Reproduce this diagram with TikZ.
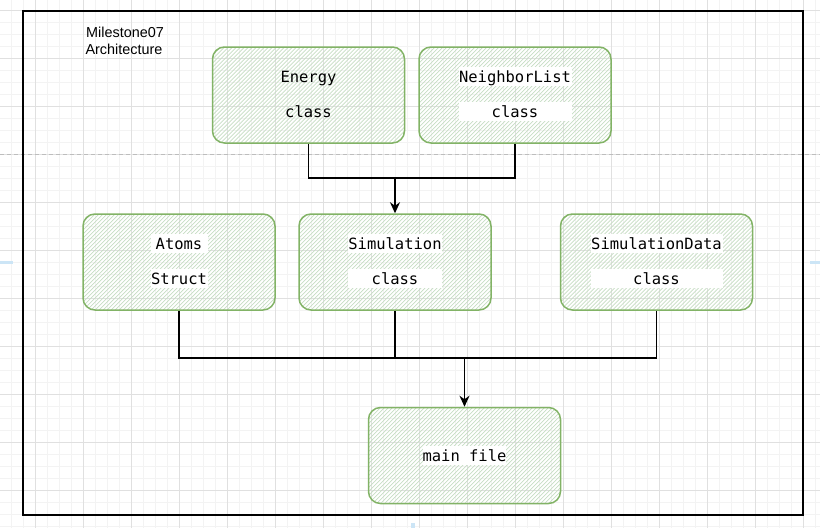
\documentclass[tikz,border=0pt]{standalone}
\usepackage{fontspec}
\newfontfamily\monofam{DejaVu Sans Mono}
\newfontfamily\sansfam{Liberation Sans}
\usetikzlibrary{calc,arrows.meta}
\definecolor{gstroke}{HTML}{82B366}
\definecolor{ghatch}{HTML}{C6DDC3}
\definecolor{gridmaj}{HTML}{E0E0E0}
\definecolor{gridmin}{HTML}{F3F3F3}
\definecolor{selblue}{HTML}{CCE5F6}
\definecolor{pageline}{HTML}{BDBDBD}
\begin{document}
\begin{tikzpicture}[x=1pt,y=-1pt,
  greenbox/.style={draw=gstroke, line width=1.5pt, rounded corners=12pt,
    minimum width=192pt, minimum height=96pt, inner sep=0pt,
    path picture={\foreach \i in {-100,-96,...,200}
      \draw[ghatch, line width=0.7pt] ([xshift=\i pt]path picture bounding box.south west) -- ++(110pt,110pt);}},
  lbl/.style={font=\monofam\fontsize{15.5}{18}\selectfont, inner sep=0pt,
    text height=15pt, text depth=4pt, anchor=base},
  wlbl/.style={lbl, fill=white, minimum width=#1},
  wlbl/.default=0pt,
  titletext/.style={font=\sansfam\fontsize{14.4}{17}\selectfont, inner sep=0pt, anchor=base},
  conn/.style={line width=1.3pt, black},
  arr/.style={conn, -{Stealth[length=11pt,width=10pt,inset=3.5pt]}}
]
\useasboundingbox (0,0) rectangle (820,528);
% grid
\foreach \x in {11,23,...,815} \draw[gridmin, line width=0.8pt] (\x,0) -- (\x,528);
\foreach \y in {10,22,...,526} \draw[gridmin, line width=0.8pt] (0,\y) -- (820,\y);
\foreach \x in {35,83,...,803} \draw[gridmaj, line width=0.8pt] (\x,0) -- (\x,528);
\foreach \y in {10,58,...,490} \draw[gridmaj, line width=0.8pt] (0,\y) -- (820,\y);
% page break line
\draw[pageline, dash pattern=on 4pt off 3pt, line width=0.8pt] (0,154) -- (820,154);
% selection marks
\fill[selblue] (0,261) rectangle (13,264);
\fill[selblue] (810,261) rectangle (820,264);
\fill[selblue] (411,523) rectangle (415,528);
% frame
\draw[line width=1.6pt] (23,11) rectangle (803,515);
% title
\node[titletext] (title1) at (125,37) {Milestone07};
\node[titletext] (title2) at (124,54) {Architecture};
% boxes
\node[greenbox] (energy) at (308.5,95) {};
\node[greenbox] (nlist) at (515,95) {};
\node[greenbox] (atoms) at (179,262) {};
\node[greenbox] (sim) at (395,262) {};
\node[greenbox] (simdata) at (656.5,262) {};
\node[greenbox] (mainf) at (464.5,455.5) {};
% labels
\node[lbl] (energy1) at ($(energy.center)+(0,-13)$) {Energy};
\node[lbl] (energy2) at ($(energy.center)+(0,22)$) {class};
\node[wlbl=113pt] (nlist1) at ($(nlist.center)+(0,-13)$) {NeighborList};
\node[wlbl=113pt] (nlist2) at ($(nlist.center)+(0,22)$) {class};
\node[wlbl=57pt] (atoms1) at ($(atoms.center)+(0,-13)$) {Atoms};
\node[wlbl=57pt] (atoms2) at ($(atoms.center)+(0,22)$) {Struct};
\node[wlbl=94pt] (sim1) at ($(sim.center)+(0,-13)$) {Simulation};
\node[wlbl=94pt] (sim2) at ($(sim.center)+(0,22)$) {class};
\node[wlbl=132pt] (simdata1) at ($(simdata.center)+(0,-13)$) {SimulationData};
\node[wlbl=132pt] (simdata2) at ($(simdata.center)+(0,22)$) {class};
\node[wlbl] (mainf1) at ($(mainf.center)+(0,5.5)$) {main file};
% connectors
\coordinate (j1) at (395,178);
\coordinate (j2) at (464.5,358);
\draw[conn] (energy.south) |- (j1);
\draw[conn] (nlist.south) |- (j1);
\draw[arr] (j1) -- (sim.north);
\draw[conn] (atoms.south) |- (j2);
\draw[conn] (simdata.south) |- (j2);
\draw[conn] (sim.south) -- (sim.south |- j2);
\draw[arr] (j2) -- (mainf.north);
\end{tikzpicture}
\end{document}
